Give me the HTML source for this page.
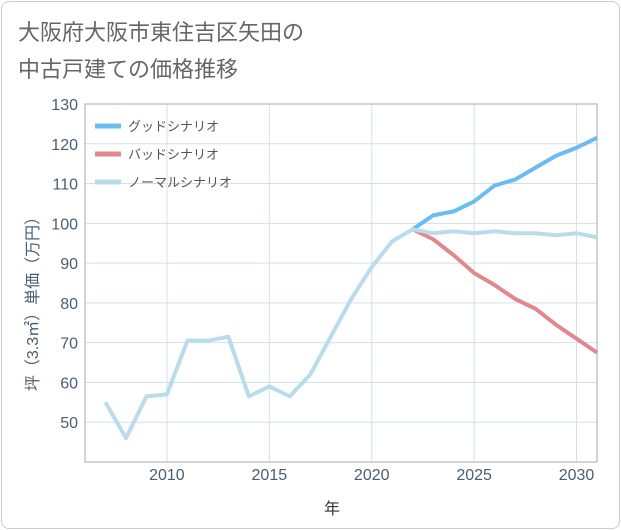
<!DOCTYPE html>
<html><head><meta charset="utf-8"><style>
body{margin:0;background:#fff;font-family:"Liberation Sans","Noto Sans CJK JP",sans-serif;}
#card{position:absolute;left:1px;top:1px;width:617px;height:526px;border:1px solid #ccc;border-radius:8px;background:#fff;}
svg text{font-family:"Liberation Sans","Noto Sans CJK JP",sans-serif;}
</style></head><body>
<div id="card"></div>
<svg id="chart" width="621" height="530" style="position:absolute;left:0;top:0">
<text x="18" y="40" font-size="22" fill="#666">大阪府大阪市東住吉区矢田の</text>
<text x="18" y="77" font-size="22" fill="#666">中古戸建ての価格推移</text>
<g id="grid"></g><g id="series"></g><g id="legend"></g>
<text x="332" y="514" font-size="16" fill="#333" text-anchor="middle">年</text>
<text transform="translate(38,300) rotate(-90)" font-size="16" fill="#4a5e72" text-anchor="middle">坪（3.3㎡）単価（万円）</text>
</svg>
<script>
const years=[2007,2008,2009,2010,2011,2012,2013,2014,2015,2016,2017,2018,2019,2020,2021,2022,2023,2024,2025,2026,2027,2028,2029,2030,2031];
const normal=[55,46,56.5,57,70.5,70.5,71.5,56.5,59,56.5,62,71.5,81,89,95.5,98.5,97.5,98,97.5,98,97.5,97.5,97,97.5,96.5];
const goodYears=[2022,2023,2024,2025,2026,2027,2028,2029,2030,2031];
const good=[98.5,102,103,105.5,109.5,111,114,117,119,121.5];
const bad=[98.5,96,92,87.5,84.5,81,78.5,74.5,71,67.5];
const yTicks=[50,60,70,80,90,100,110,120,130];
const xTicks=[2010,2015,2020,2025,2030];
const L=85,R=597,T=104,B=462;
const x=v=>L+(v-2006)/(2031-2006)*(R-L);
const y=v=>B-(v-40)/(130-40)*(B-T);
const NS="http://www.w3.org/2000/svg";
function mk(t,a,p){const e=document.createElementNS(NS,t);for(const k in a)e.setAttribute(k,a[k]);p.appendChild(e);return e;}
const g=document.getElementById('grid');
yTicks.forEach(v=>{const l=mk('line',{x1:L,x2:R,y1:y(v),y2:y(v),stroke:'#d5e0ea','stroke-width':1},g);


const t=mk('text',{x:78,y:y(v)+6,'font-size':16,fill:'#4a5e72','text-anchor':'end'},g);t.textContent=v;

});
xTicks.forEach(v=>{const l=mk('line',{x1:x(v),x2:x(v),y1:T,y2:B,stroke:'#d5e0ea','stroke-width':1},g);


const t=mk('text',{x:x(v),y:480,'font-size':16,fill:'#4a5e72','text-anchor':'middle'},g);t.textContent=v;

});
const fr=mk('rect',{x:L,y:T,width:R-L,height:B-T,fill:'none',stroke:'#aaa','stroke-width':1},g);


const s=document.getElementById('series');
function line(xs,ys,c,n){const p=mk('polyline',{points:xs.map((v,i)=>x(v)+','+y(ys[i])).join(' '),fill:'none',stroke:c,'stroke-width':4,'stroke-linejoin':'round'},s);

}
line(goodYears,good,'#6bbcf0','good-scenario-line');
line(goodYears,bad,'#e0888e','bad-scenario-line');
line(years,normal,'#b8dcea','normal-scenario-line');
const lg=document.getElementById('legend');
[['グッドシナリオ','#6bbcf0'],['バッドシナリオ','#e0888e'],['ノーマルシナリオ','#b8dcea']].forEach((d,i)=>{
const yy=126+i*28;
const l=mk('line',{x1:95,x2:121,y1:yy,y2:yy,stroke:d[1],'stroke-width':5},lg);


const t=mk('text',{x:128,y:yy+5,'font-size':13,fill:'#555'},lg);t.textContent=d[0];

});
</script>
</body></html>
